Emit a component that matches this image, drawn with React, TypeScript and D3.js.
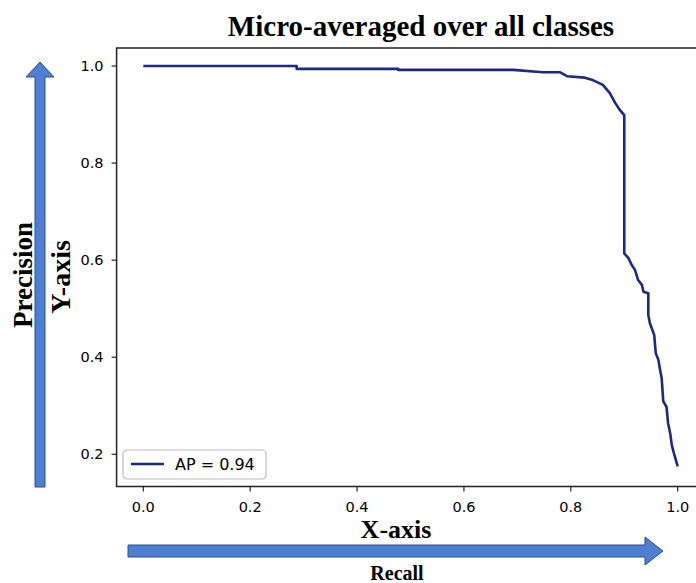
import React, { useEffect, useRef } from 'react';
import * as d3 from 'd3';

// values
const recall = [
    0, 0.287, 0.287, 0.477, 0.477, 0.692, 0.748, 0.78, 0.793, 0.826, 0.841, 0.86, 0.873,
    0.883, 0.892, 0.9, 0.9, 0.908, 0.914, 0.92, 0.926, 0.933, 0.936, 0.945, 0.945, 0.948,
    0.956, 0.959, 0.964, 0.967, 0.97, 0.973, 0.979, 0.982, 0.986, 0.989, 0.993, 1.0
];
const precision = [
    1.0, 1.0, 0.994, 0.994, 0.992, 0.992, 0.987, 0.987, 0.979, 0.976, 0.971, 0.961, 0.944,
    0.924, 0.909, 0.899, 0.614, 0.604, 0.59, 0.58, 0.559, 0.549, 0.535, 0.532, 0.487, 0.47,
    0.446, 0.408, 0.394, 0.374, 0.357, 0.309, 0.298, 0.264, 0.243, 0.219, 0.202, 0.175
];
const xTicks = [0, 0.2, 0.4, 0.6, 0.8, 1.0];
const yTicks = [0.2, 0.4, 0.6, 0.8, 1.0];
const legendLabel = 'AP = 0.94';

export default function App() {
    const ref = useRef<SVGSVGElement>(null);

    useEffect(() => {
        const svg = d3.select(ref.current);
        svg.selectAll('*').remove();

        const x = d3.scaleLinear().domain([0, 1]).range([143.3, 677.7]);
        const y = d3.scaleLinear().domain([0.2, 1.0]).range([454.3, 66]);
        const x0 = x(-0.05), x1 = x(1.05);
        const y0 = y(0.1335), y1 = y(1.037);

        const tickFont = 'DejaVu Sans, sans-serif';
        const serif = '"Liberation Serif", "Times New Roman", serif';

        // title
        svg.append('text')
            .attr('x', 421).attr('y', 36)
            .attr('text-anchor', 'middle')
            .style('font-family', serif).style('font-weight', 'bold').style('font-size', '29px')
            .text('Micro-averaged over all classes');

        // frame (right side is cut off by the image)
        svg.append('path')
            .attr('d', `M${x1},${y1}H${x0}V${y0}H${x1}`)
            .attr('fill', 'none').attr('stroke', '#222').attr('stroke-width', 1.5);

        const xAxis = svg.append('g');
        xTicks.forEach(t => {
            xAxis.append('line')
                .attr('x1', x(t)).attr('x2', x(t)).attr('y1', y0).attr('y2', y0 + 5)
                .attr('stroke', '#222').attr('stroke-width', 1.2);
            xAxis.append('text')
                .attr('x', x(t)).attr('y', y0 + 25)
                .attr('text-anchor', 'middle')
                .style('font-family', tickFont).style('font-size', '14.5px')
                .text(d3.format('.1f')(t));
        });
        const yAxis = svg.append('g');
        yTicks.forEach(t => {
            yAxis.append('line')
                .attr('x1', x0 - 5).attr('x2', x0).attr('y1', y(t)).attr('y2', y(t))
                .attr('stroke', '#222').attr('stroke-width', 1.2);
            yAxis.append('text')
                .attr('x', x0 - 13).attr('y', y(t) + 5)
                .attr('text-anchor', 'end')
                .style('font-family', tickFont).style('font-size', '14.5px')
                .text(d3.format('.1f')(t));
        });

        // curve
        const pts: [number, number][] = recall.map((r, i) => [r, precision[i]]);
        const line = d3.line<[number, number]>()
            .x(d => x(d[0]))
            .y(d => y(d[1]));
        svg.append('path')
            .datum(pts)
            .attr('d', line)
            .attr('fill', 'none')
            .attr('stroke', '#1b2a80')
            .attr('stroke-width', 2.6)
            .attr('stroke-linejoin', 'round');

        // legend
        const lg = svg.append('g').attr('transform', 'translate(123,450)');
        lg.append('rect')
            .attr('width', 143).attr('height', 29).attr('rx', 4)
            .attr('fill', 'white').attr('stroke', '#bbb').attr('stroke-width', 1.2);
        lg.append('line')
            .attr('x1', 8).attr('x2', 41).attr('y1', 14).attr('y2', 14)
            .attr('stroke', '#1b2a80').attr('stroke-width', 2.6);
        lg.append('text')
            .attr('x', 52).attr('y', 20)
            .style('font-family', tickFont).style('font-size', '16px')
            .text(legendLabel);

        // decorative arrows
        const arrowFill = '#4f7fd2', arrowStroke = '#2f4f88';
        svg.append('path')
            .attr('d', 'M35,487V77H26L40,62L54,77H45V487Z')
            .attr('fill', arrowFill).attr('stroke', arrowStroke).attr('stroke-width', 1);
        svg.append('path')
            .attr('d', 'M128,545H645V537L663,551L645,565V557H128Z')
            .attr('fill', arrowFill).attr('stroke', arrowStroke).attr('stroke-width', 1);

        // axis labels
        svg.append('text')
            .attr('transform', 'translate(32,275) rotate(-90)')
            .attr('text-anchor', 'middle')
            .style('font-family', serif).style('font-weight', 'bold').style('font-size', '27px')
            .text('Precision');
        svg.append('text')
            .attr('transform', 'translate(70,277) rotate(-90)')
            .attr('text-anchor', 'middle')
            .style('font-family', serif).style('font-weight', 'bold').style('font-size', '28px')
            .text('Y-axis');
        svg.append('text')
            .attr('x', 396).attr('y', 538)
            .attr('text-anchor', 'middle')
            .style('font-family', serif).style('font-weight', 'bold').style('font-size', '26px')
            .text('X-axis');
        svg.append('text')
            .attr('x', 397).attr('y', 580)
            .attr('text-anchor', 'middle')
            .style('font-family', serif).style('font-weight', 'bold').style('font-size', '20px')
            .text('Recall');
    }, []);

    return (
        <svg ref={ref} width={696} height={583}
            style={{ position: 'absolute', left: 0, top: 0, background: 'white' }} />
    );
}
